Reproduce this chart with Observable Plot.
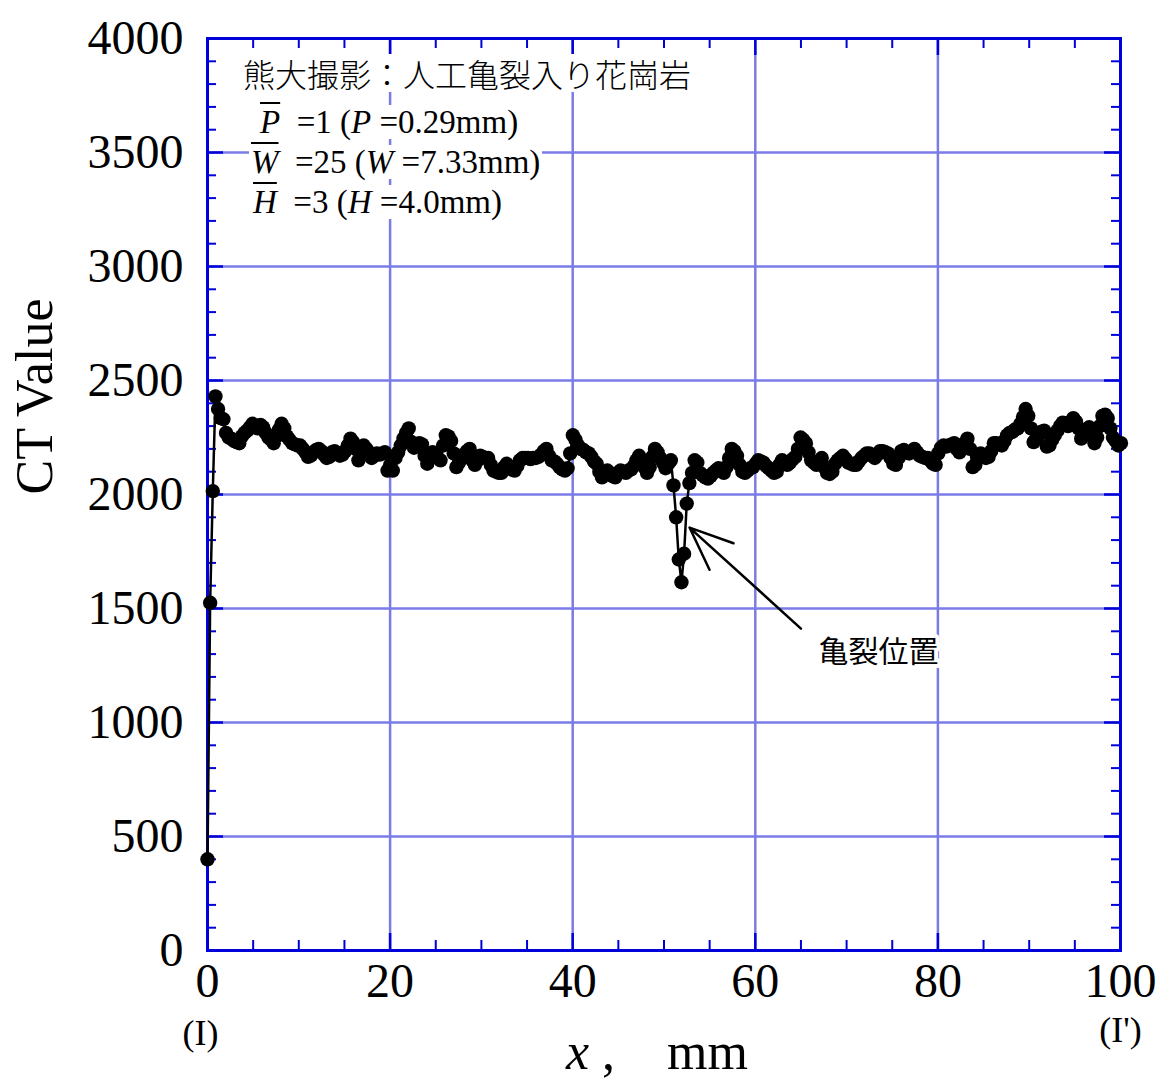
<!DOCTYPE html>
<html><head><meta charset="utf-8">
<script src="https://cdn.jsdelivr.net/npm/d3@7"></script>
<script src="https://cdn.jsdelivr.net/npm/@observablehq/plot@0.6"></script>
<style>
body{margin:0;background:#fff;}
#wrap{position:relative;width:1160px;height:1080px;overflow:hidden;}
.note{position:absolute;background:#fff;white-space:pre;font-family:"Liberation Serif","Times New Roman",serif;font-size:33px;line-height:34px;color:#000;padding:0 2px;}
.jp{font-family:"Noto Sans CJK JP",sans-serif;font-size:32px;line-height:38px;font-weight:300;}
.ov{text-decoration:overline;text-decoration-thickness:2px;}
.xl{position:absolute;white-space:pre;font-family:"Liberation Serif","Times New Roman",serif;font-size:52px;line-height:52px;color:#000;}
</style></head><body><div id="wrap"></div>
<script>
// sampling pitch P (mm)
const step = 0.29;
// CT values along the line (I)-(I'), one per pixel pitch
const ctValues = [
 400,1525,2015,2430,2375,2335,2330,2270,2250,2245,
 2235,2230,2225,2255,2270,2280,2295,2310,2300,2290,
 2305,2295,2270,2250,2240,2225,2255,2285,2310,2290,
 2255,2240,2225,2220,2215,2215,2200,2185,2165,2170,
 2185,2195,2200,2190,2175,2160,2165,2185,2190,2180,
 2170,2175,2190,2215,2245,2230,2200,2150,2185,2215,
 2200,2185,2160,2170,2180,2175,2180,2185,2105,2130,
 2105,2160,2185,2215,2245,2270,2290,2230,2205,2215,
 2225,2220,2170,2135,2160,2185,2175,2160,2150,2215,
 2260,2255,2235,2180,2120,2140,2170,2175,2190,2200,
 2150,2130,2150,2170,2165,2160,2160,2130,2105,2100,
 2095,2095,2120,2135,2120,2110,2105,2125,2150,2160,
 2160,2160,2155,2160,2160,2165,2175,2190,2200,2170,
 2150,2145,2135,2120,2110,2105,2115,2180,2260,2240,
 2215,2200,2195,2185,2180,2165,2145,2135,2100,2075,
 2095,2105,2095,2080,2075,2095,2105,2100,2095,2105,
 2110,2125,2150,2170,2145,2120,2095,2120,2165,2200,
 2185,2160,2140,2115,2135,2150,2040,1900,1715,1615,
 1740,1960,2050,2095,2150,2140,2095,2085,2075,2070,
 2080,2095,2105,2115,2105,2095,2120,2160,2200,2190,
 2170,2130,2100,2095,2105,2115,2120,2135,2150,2145,
 2140,2125,2115,2105,2095,2100,2130,2150,2140,2130,
 2140,2155,2165,2200,2250,2240,2225,2185,2150,2140,
 2130,2145,2160,2120,2095,2090,2100,2135,2150,2160,
 2170,2155,2140,2135,2130,2130,2145,2160,2170,2180,
 2180,2170,2160,2175,2190,2190,2185,2180,2160,2135,
 2130,2160,2190,2195,2185,2180,2190,2200,2185,2170,
 2165,2160,2160,2150,2135,2130,2180,2205,2215,2210,
 2215,2220,2225,2200,2185,2200,2225,2245,2200,2120,
 2130,2160,2180,2165,2160,2165,2190,2225,2225,2220,
 2215,2235,2260,2270,2275,2285,2290,2310,2340,2375,
 2345,2290,2230,2245,2260,2275,2280,2210,2215,2240,
 2260,2280,2300,2315,2310,2300,2320,2335,2320,2290,
 2245,2270,2285,2295,2265,2225,2250,2300,2345,2350,
 2335,2290,2250,2235,2215,2225
];
const xMajor = [0,20,40,60,80,100];
const xMinor = [5,10,15,25,30,35,45,50,55,65,70,75,85,90,95];
const xGrid = [20,40,60,80];
const yMajor = [0,500,1000,1500,2000,2500,3000,3500,4000];
const yMinor = [100,200,300,400,600,700,800,900,1100,1200,1300,1400,1600,1700,1800,1900,2100,2200,2300,2400,2600,2700,2800,2900,3100,3200,3300,3400,3600,3700,3800,3900];
const yGrid = [500,1000,1500,2000,2500,3000,3500];
const endLabels = ["(I)","(I')"];
const endX = [0,100];
// crack annotation
const crackLabel = "亀裂位置";
const arrowX = [65.0, 52.8];
const arrowY = [1412, 1855];
const crackLabelPos = [73.5, 1307];

const points = ctValues.map((v,i)=>({x: i*step, y: v}));
const gridColor = "#7b7be8";
const axisBlue = "#0000d8";
const serif = '"Liberation Serif","Times New Roman",serif';
const W = 1160, H = 1080, mL = 207, mR = 40, mT = 38, mB = 130;
const pw = W - mL - mR, ph = H - mT - mB;

const chart = Plot.plot({
  width: W, height: H,
  marginLeft: mL, marginRight: mR, marginTop: mT, marginBottom: mB,
  style: {fontFamily: serif, background: "#fff", color: "#000"},
  x: {domain: [0,100]},
  y: {domain: [0,4000]},
  marks: [
    Plot.gridX(xGrid, {stroke: gridColor, strokeWidth: 2.5, strokeOpacity: 1}),
    Plot.gridY(yGrid, {stroke: gridColor, strokeWidth: 2.5, strokeOpacity: 1}),
    // inward ticks
    Plot.ruleX(xMinor, {stroke: axisBlue, strokeWidth: 2, insetTop: ph - 10}),
    Plot.ruleX(xMinor, {stroke: axisBlue, strokeWidth: 2, insetBottom: ph - 10}),
    Plot.ruleX(xMajor, {stroke: axisBlue, strokeWidth: 2.5, insetTop: ph - 17}),
    Plot.ruleX(xMajor, {stroke: axisBlue, strokeWidth: 2.5, insetBottom: ph - 17}),
    Plot.ruleY(yMinor, {stroke: axisBlue, strokeWidth: 2, insetRight: pw - 9}),
    Plot.ruleY(yMinor, {stroke: axisBlue, strokeWidth: 2, insetLeft: pw - 9}),
    Plot.ruleY(yMajor, {stroke: axisBlue, strokeWidth: 2.5, insetRight: pw - 16}),
    Plot.ruleY(yMajor, {stroke: axisBlue, strokeWidth: 2.5, insetLeft: pw - 16}),
    Plot.frame({stroke: axisBlue, strokeWidth: 3}),
    Plot.axisX(xMajor, {anchor: "bottom", tickSize: 0, tickPadding: 12, fontSize: 48, fontFamily: serif, label: null, tickFormat: d => String(d)}),
    Plot.axisY(yMajor, {anchor: "left", tickSize: 0, tickPadding: 24, fontSize: 48, fontFamily: serif, label: null, tickFormat: d => String(d)}),
    Plot.text(["CT Value"], {frameAnchor: "left", text: d => d, rotate: -90, dx: -172, fontSize: 52, fontFamily: serif, fill: "#000"}),
    Plot.text([endLabels[0]], {x: () => endX[0], y: () => 0, text: d => d, dy: 83, dx: -7, fontSize: 36, fontFamily: serif, fill: "#000"}),
    Plot.text([endLabels[1]], {x: () => endX[1], y: () => 0, text: d => d, dy: 80, fontSize: 36, fontFamily: serif, fill: "#000"}),
    Plot.line(points, {x: "x", y: "y", stroke: "#000", strokeWidth: 2.5}),
    Plot.dot(points, {x: "x", y: "y", r: 7.2, fill: "#000", stroke: "none"}),
    Plot.arrow([0], {x1: () => arrowX[0], y1: () => arrowY[0], x2: () => arrowX[1], y2: () => arrowY[1], stroke: "#000", strokeWidth: 2.5, headLength: 28, headAngle: 45}),
    Plot.text([crackLabel], {x: () => crackLabelPos[0], y: () => crackLabelPos[1], text: d => d, fontSize: 30, fontFamily: '"Noto Sans CJK JP",sans-serif', fill: "#000", stroke: "#fff", strokeWidth: 8})
  ]
});
const wrap = document.getElementById("wrap");
wrap.appendChild(chart);

function addNote(html, left, top, cls) {
  const d = document.createElement("div");
  d.className = cls;
  d.style.left = left + "px";
  d.style.top = top + "px";
  d.innerHTML = html;
  wrap.appendChild(d);
}
addNote("熊大撮影：人工亀裂入り花崗岩", 241, 54, "note jp");
addNote('<span class="ov"><i>P</i></span>  =1 (<i>P</i> =0.29mm)', 258, 105, "note");
addNote('<span class="ov"><i>W</i></span>  =25 (<i>W</i> =7.33mm)', 249, 145, "note");
addNote('<span class="ov"><i>H</i></span>  =3 (<i>H</i> =4.0mm)', 251, 185, "note");
addNote('<i>x</i> ,    mm', 566, 1026, "xl");
</script></body></html>
